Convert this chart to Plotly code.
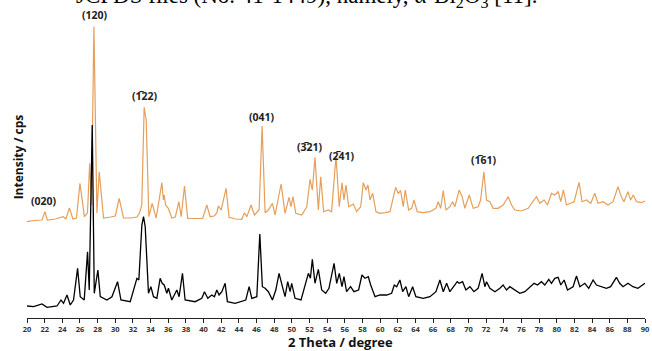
import plotly.graph_objects as go

# ---------------- data ----------------
bi2o3_theta = [20.0, 20.8, 21.7, 22.03, 22.3, 23.2, 24.1, 24.4, 24.8, 25.2, 25.6, 26.0, 26.5, 26.85, 27.1, 27.3,
               27.58, 27.92, 28.18, 28.67, 29.5, 30.0, 30.44, 30.93, 31.7, 32.45, 32.75, 33.0, 33.27, 33.5, 33.8,
               34.18, 34.63, 35.28, 35.45, 35.54, 35.7, 36.0, 36.4, 36.8, 37.2, 37.46, 37.84, 38.2, 39.0, 39.9,
               40.37, 40.74, 41.2, 41.5, 41.68, 41.99, 42.55, 42.89, 43.6, 44.33, 44.63, 44.9, 45.38, 45.76, 46.29,
               46.63, 46.97, 47.34, 47.8, 48.1, 48.78, 49.23, 49.68, 49.91, 50.13, 50.44, 51.12, 51.69, 52.06,
               52.32, 52.62, 53.0, 53.27, 53.6, 54.13, 54.5, 55.0, 55.37, 55.68, 55.9, 56.13, 56.44, 56.96, 57.34,
               57.8, 58.09, 58.4, 58.62, 58.85, 59.15, 59.53, 59.98, 60.55, 61.11, 61.76, 62.05, 62.32, 62.62,
               62.84, 63.23, 63.57, 63.83, 64.2, 64.88, 65.64, 66.32, 66.58, 66.85, 67.15, 67.45, 67.9, 68.21,
               68.47, 68.95, 69.29, 69.6, 70.09, 70.54, 71.1, 71.38, 71.75, 72.05, 72.43, 72.8, 73.37, 73.93,
               74.5, 74.88, 75.26, 76.0, 76.76, 77.33, 77.7, 78.08, 78.57, 78.95, 79.41, 79.78, 80.16, 80.46,
               80.76, 81.1, 81.6, 81.97, 82.53, 82.87, 83.37, 83.86, 84.31, 84.68, 85.25, 85.81, 86.38, 86.94,
               87.32, 87.61, 88.07, 88.37, 88.67, 89.04, 89.57, 90.0]
bi2o3_cps = [33, 45, 50, 133, 50, 60, 83, 60, 170, 60, 70, 417, 83, 120, 617, 200,
             1983, 120, 533, 70, 80, 90, 267, 70, 70, 80, 120, 200, 1177, 1050, 83,
             217, 70, 423, 250, 300, 200, 167, 70, 80, 233, 83, 390, 67, 65, 65,
             200, 83, 90, 120, 190, 150, 367, 77, 60, 57, 123, 83, 200, 100, 150,
             990, 123, 150, 217, 100, 410, 117, 277, 183, 283, 117, 100, 183, 457,
             350, 677, 150, 483, 133, 150, 133, 690, 183, 423, 250, 400, 183, 210, 133,
             183, 423, 350, 400, 250, 317, 133, 117, 123, 133, 377, 317, 343, 183,
             350, 150, 167, 250, 133, 123, 133, 167, 233, 167, 343, 150, 183, 233,
             183, 350, 283, 167, 300, 167, 183, 250, 533, 250, 233, 167, 167, 200,
             283, 200, 150, 140, 167, 233, 283, 217, 250, 200, 317, 300, 333, 233,
             350, 200, 223, 233, 427, 233, 250, 217, 317, 217, 233, 200, 233, 383,
             283, 233, 333, 250, 300, 233, 223, 240]

pt_theta = [20.0, 20.75, 21.7, 22.26, 23.4, 23.85, 24.14, 24.53, 24.9, 25.27, 25.73, 26.03, 26.48, 26.86, 27.05,
            27.39, 27.62, 28.03, 28.3, 29.05, 29.62, 30.26, 30.64, 31.69, 32.45, 32.67, 33.01, 33.2, 33.39, 33.76,
            34.03, 34.33, 34.71, 35.08, 35.31, 35.54, 35.84, 36.02, 36.4, 36.97, 37.23, 37.61, 37.91, 39.04, 39.8,
            40.1, 40.48, 40.93, 41.23, 41.5, 41.76, 42.07, 42.44, 42.7, 43.57, 44.33, 44.78, 45.16, 45.46, 46.03,
            46.37, 46.66, 46.97, 47.34, 47.8, 48.18, 48.55, 48.93, 49.23, 49.53, 49.8, 49.98, 50.36, 51.04, 51.57,
            51.87, 52.1, 52.32, 52.62, 53.0, 53.38, 53.83, 54.2, 54.78, 55.08, 55.37, 55.68, 55.9, 56.2, 56.65,
            57.03, 57.56, 57.94, 58.28, 58.66, 58.93, 59.42, 59.98, 60.74, 61.3, 61.6, 61.87, 62.24, 62.55, 62.92,
            63.23, 63.68, 64.05, 64.88, 65.64, 66.32, 66.77, 67.15, 67.53, 67.9, 68.36, 68.73, 68.95, 69.34, 69.71,
            70.17, 70.62, 71.1, 71.55, 71.86, 72.05, 72.43, 73.0, 73.56, 73.93, 74.31, 74.69, 75.26, 75.82, 76.39,
            76.95, 77.44, 77.82, 78.27, 78.65, 79.1, 79.41, 79.78, 80.16, 80.46, 80.84, 81.22, 81.85, 82.24, 82.62,
            83.18, 83.63, 84.12, 84.5, 85.07, 85.63, 86.11, 86.76, 87.13, 87.51, 88.07, 88.63, 89.2, 89.76, 90.0]
pt_cps = [40, 33, 60, 27, 40, 100, 67, 150, 50, 100, 417, 133, 100, 583, 200,
          1850, 167, 400, 133, 100, 133, 283, 100, 83, 317, 300, 850, 933, 833, 167,
          233, 133, 117, 317, 267, 250, 167, 217, 100, 200, 133, 367, 100, 83, 117,
          183, 117, 150, 133, 200, 150, 183, 267, 83, 67, 83, 100, 233, 117, 133,
          760, 233, 217, 183, 100, 200, 367, 233, 133, 283, 183, 267, 117, 100, 267,
          367, 317, 507, 267, 407, 200, 167, 217, 467, 267, 367, 233, 333, 183, 233,
          183, 200, 350, 317, 333, 250, 133, 150, 150, 167, 250, 233, 300, 183, 233,
          133, 233, 133, 117, 133, 183, 300, 183, 267, 183, 233, 283, 267, 283, 200,
          233, 183, 217, 367, 233, 283, 217, 183, 217, 250, 200, 233, 200, 167, 183,
          233, 267, 250, 283, 250, 307, 267, 317, 327, 250, 300, 200, 233, 340, 233,
          267, 217, 300, 250, 233, 217, 233, 327, 267, 233, 267, 233, 217, 250, 267]

bi2o3_offset = 850  # vertical stacking offset for the upper pattern

OVL = "\u0305"  # combining overline (negative Miller index)
peak_labels = ["(020)", "(120)", "(1" + OVL + "22)", "(041)", "(3" + OVL + "21)", "(2" + OVL + "41)", "(1" + OVL + "61)"]
peak_label_theta = [21.92, 27.73, 33.35, 46.63, 52.0, 55.68, 71.71]
peak_label_cps = [1093, 2955, 2140, 1933, 1633, 1545, 1500]

x_ticks = list(range(20, 91, 2))

# ---------------- figure ----------------
fig = go.Figure()
fig.add_trace(go.Scatter(x=bi2o3_theta, y=[v + bi2o3_offset for v in bi2o3_cps], mode="lines",
                         line=dict(color="#E69F5A", width=1.2), showlegend=False, hoverinfo="skip"))
fig.add_trace(go.Scatter(x=pt_theta, y=pt_cps, mode="lines",
                         line=dict(color="#000000", width=1.3), showlegend=False, hoverinfo="skip"))

lab_font = dict(family="Noto Sans", size=10.5, color="#222222", weight="bold")
for t, th, c in zip(peak_labels, peak_label_theta, peak_label_cps):
    fig.add_annotation(x=th, y=c, text=t, showarrow=False, font=lab_font, xanchor="center", yanchor="middle",
                       borderpad=0)

sample_font = dict(family="Open Sans", size=12, color="#222222", weight="bold")
fig.add_annotation(x=90.25, y=1410, text="Bi<sub>2</sub>O<sub>3</sub>", showarrow=False, font=sample_font,
                   xanchor="right", yanchor="middle")
fig.add_annotation(x=90.15, y=490, text="Pt/Bi<sub>2</sub>O<sub>3</sub>", showarrow=False, font=sample_font,
                   xanchor="right", yanchor="middle")

# axis titles
fig.add_annotation(xref="paper", x=-0.014, y=1530, text="Intensity / cps", textangle=-90, showarrow=False,
                   font=dict(family="Open Sans", size=12, color="#111111", weight="bold"),
                   xanchor="center", yanchor="middle")
fig.add_annotation(xref="paper", yref="paper", x=0.507, y=-0.076, text="2 Theta / degree", showarrow=False,
                   font=dict(family="Open Sans", size=13, color="#111111", weight="bold"),
                   xanchor="center", yanchor="middle", borderpad=0)

# caption text of the source page, cut at the top of the picture
fig.add_annotation(xref="paper", yref="paper", x=0.829, y=1.0, yshift=-12, xanchor="right", yanchor="bottom",
                   text="JCPDS files (No. 41-1449), namely, \u03b1-Bi<sub>2</sub>O<sub>3</sub> [11].",
                   showarrow=False, borderpad=0,
                   font=dict(family="Liberation Serif", size=23, color="#000000"))

fig.update_layout(
    width=652, height=351,
    margin=dict(l=27, r=7, t=0, b=33),
    paper_bgcolor="white", plot_bgcolor="white",
    xaxis=dict(range=[20, 90], tickvals=x_ticks, ticktext=[str(v) for v in x_ticks],
               showline=True, linecolor="#222222", linewidth=1.2, ticks="outside", ticklen=4,
               tickcolor="#222222", tickwidth=1, showgrid=False, zeroline=False,
               tickfont=dict(family="Open Sans", size=7.5, color="#333333", weight="bold")),
    yaxis=dict(range=[-80, 3100], visible=False, showgrid=False, zeroline=False),
)

fig.write_html("out.html", config={"displayModeBar": False},
               post_script="document.body.style.margin='0px';")
